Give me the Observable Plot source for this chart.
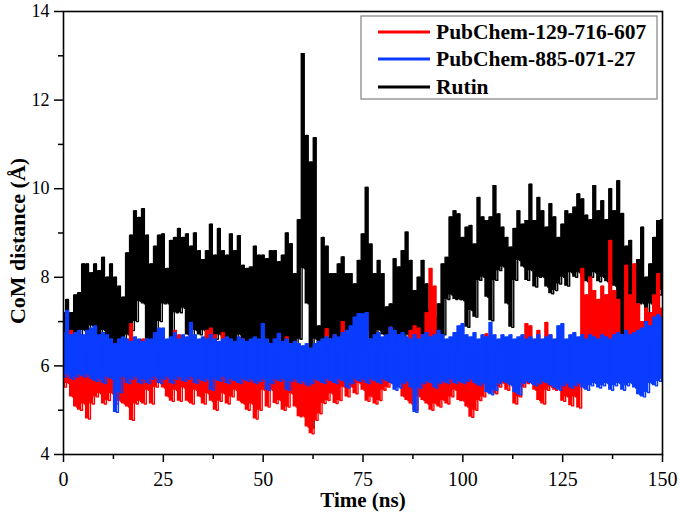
<!DOCTYPE html>
<html>
<head>
<meta charset="utf-8">
<script src="https://cdn.jsdelivr.net/npm/d3@7"></script>
<script src="https://cdn.jsdelivr.net/npm/@observablehq/plot@0.6"></script>
<style>
  html, body { margin: 0; padding: 0; background: #fff; }
  #chart { width: 680px; height: 518px; }
</style>
</head>
<body>
<div id="chart"></div>
<script>
// ---- Data ----
// time in ns, 1 ns steps; each step gives the upper and lower reach of the trace
const timeNs = d3.range(0, 151);
const seriesNames = ["PubChem-129-716-607", "PubChem-885-071-27", "Rutin"];
const seriesColors = ["#ff0000", "#0a3cff", "#000000"];
const xTicks = [0, 25, 50, 75, 100, 125, 150];
const xMinorTicks = [12.5, 37.5, 62.5, 87.5, 112.5, 137.5];
const yTicks = [4, 6, 8, 10, 12, 14];
const yMinorTicks = [5, 7, 9, 11, 13];

const rutinHi = [
  7.2,7.5,7.2,7.6,7.65,8.3,8.3,8.1,8.3,8.15,8.45,8.0,8.3,8.0,7.8,7.55,8.55,8.95,9.5,9.35,9.55,8.95,8.3,8.7,8.95,
  8.98,8.2,8.83,8.9,9.1,8.9,8.98,8.7,9.0,8.6,8.4,8.6,9.2,8.5,9.1,8.6,8.5,8.98,8.6,8.94,8.27,8.2,8.23,8.7,8.5,
  8.5,8.42,8.6,8.6,8.35,8.5,9.0,8.76,8.08,9.3,13.05,11.2,10.6,11.15,6.9,8.9,8.7,8.08,8.08,8.3,8.46,8.08,8.08,7.85,8.38,
  8.98,10.03,8.75,8.08,8.38,8.08,7.33,7.4,8.42,8.23,8.6,9.02,8.38,7.7,8.0,8.38,7.85,7.25,7.1,7.4,8.3,8.45,9.36,9.5,9.43,
  8.9,9.13,9.17,8.75,9.8,9.36,9.28,9.36,10.07,9.43,9.13,8.9,8.68,9.1,9.5,9.2,9.28,10.1,9.28,9.8,9.5,9.13,9.66,9.36,8.9,
  9.2,9.5,9.43,9.58,9.88,9.77,9.4,9.3,10.07,9.5,9.73,9.3,10.0,9.5,10.18,9.44,8.7,8.83,8.2,8.4,9.13,8.0,8.3,8.9,9.28,9.3
];
const rutinLo = [
  6.4,6.5,6.6,6.5,6.7,6.8,6.7,6.9,6.7,6.6,6.8,6.5,6.6,6.4,6.5,6.6,6.7,6.8,7.0,7.45,7.4,6.6,6.5,6.7,7.0,
  7.4,7.4,6.6,7.2,7.2,7.3,6.7,6.6,6.8,6.7,6.8,6.6,6.7,6.6,6.7,6.6,6.5,6.6,6.5,6.7,6.6,6.5,6.4,6.6,6.5,
  6.5,6.6,6.5,6.6,6.7,6.5,6.6,6.5,6.4,6.6,8.2,7.4,4.6,6.6,6.3,6.6,6.7,6.6,6.5,6.6,6.7,6.6,6.7,6.6,6.8,
  6.7,6.8,6.6,6.6,6.8,6.7,6.6,6.5,6.6,6.7,6.6,6.7,6.6,6.5,6.6,6.7,6.6,6.5,6.6,6.6,6.7,7.5,7.6,7.5,7.5,
  7.47,6.87,7.25,7.1,7.93,8.0,7.55,7.02,7.93,8.15,8.23,7.4,6.87,7.93,8.38,8.23,7.93,8.15,7.78,8.0,8.0,7.78,7.63,7.7,7.85,
  8.0,7.8,8.1,8.0,8.1,8.0,7.9,8.0,8.1,7.9,8.0,7.9,8.0,7.8,7.5,6.7,6.8,7.3,7.2,7.4,7.4,7.2,7.4,7.5,7.6,7.7
];
const pc129Hi = [
  6.3,6.4,6.8,6.7,6.3,6.4,6.2,6.3,6.4,6.3,6.2,6.3,6.4,6.2,6.3,6.4,6.3,6.95,6.3,6.2,6.6,6.3,6.4,6.3,6.2,
  6.3,6.4,6.3,6.8,6.7,6.3,6.2,6.4,6.3,6.2,6.3,6.8,6.85,6.7,6.3,6.75,6.3,6.4,6.3,6.2,6.6,6.3,6.2,6.3,6.4,
  6.3,6.2,6.3,6.4,6.3,6.2,6.65,6.3,6.2,6.4,6.3,6.2,6.3,6.4,6.3,6.4,6.84,6.3,6.7,6.3,7.0,6.4,6.3,6.4,6.3,
  6.3,6.4,6.3,6.2,6.3,6.4,6.3,6.87,6.3,6.4,6.3,6.4,6.8,6.9,6.85,6.7,7.2,8.2,7.8,6.6,6.4,6.3,6.4,6.3,6.4,
  6.3,6.4,6.3,6.2,6.3,6.4,6.72,6.3,6.4,6.3,6.2,6.3,6.4,6.3,6.4,6.3,6.95,6.9,6.4,6.8,6.4,6.98,6.7,6.4,6.3,
  6.4,6.3,6.4,6.3,6.6,8.2,7.6,8.0,7.7,7.5,7.8,7.6,8.83,7.7,7.5,6.5,8.27,7.6,8.3,7.4,7.0,7.3,7.2,7.6,8.08,7.3
];
const pc129Lo = [
  5.52,5.6,5.3,5.07,5.0,5.14,4.8,5.14,5.3,5.37,5.14,5.22,5.37,5.14,5.2,5.14,5.07,4.77,5.14,5.2,5.14,5.45,5.14,5.52,5.67,
  5.5,5.3,5.2,5.45,5.2,5.5,5.2,5.14,5.45,5.3,5.14,5.37,5.2,5.0,5.2,5.37,5.14,5.3,5.45,5.2,5.14,5.0,5.14,4.8,5.0,
  5.45,5.07,5.45,5.15,5.22,5.0,5.07,5.37,5.07,4.85,4.85,4.62,4.47,4.77,4.92,5.15,5.22,5.37,5.15,5.22,5.52,5.3,5.52,5.37,5.6,
  5.45,5.2,5.3,5.14,5.22,5.45,5.52,5.6,5.75,5.6,5.3,5.22,5.14,5.0,5.3,5.22,5.14,5.0,5.14,5.07,5.22,5.14,5.3,5.45,5.22,
  5.2,5.07,4.84,5.0,5.22,5.3,5.6,5.6,5.37,5.52,5.6,5.45,5.6,5.14,5.3,5.52,5.6,5.6,5.45,5.22,5.14,5.45,5.52,5.45,5.52,
  5.2,5.3,5.1,5.3,5.05,6.0,6.1,6.0,6.2,6.0,6.1,6.0,6.2,6.0,6.1,6.2,6.0,6.1,6.0,6.2,6.1,6.0,6.2,6.1,6.0,6.2
];
const pc885Hi = [
  6.75,7.25,6.7,6.75,6.8,6.7,6.8,6.85,6.9,6.7,6.75,6.7,6.6,6.5,6.6,6.65,6.6,6.55,6.65,6.6,6.55,6.6,6.6,6.75,6.85,
  6.85,6.6,6.65,6.75,6.6,6.7,6.65,6.98,6.7,6.6,6.65,6.6,6.7,6.6,6.55,6.6,6.65,6.6,6.55,6.65,6.6,6.55,6.6,6.65,6.6,
  6.95,6.6,6.5,6.6,6.73,6.55,6.6,6.5,6.55,6.5,6.45,6.5,6.4,6.5,6.55,6.6,6.65,6.6,6.7,6.65,6.75,6.8,6.9,7.1,7.18,
  7.17,7.2,6.6,6.7,6.75,6.65,6.7,6.87,6.8,6.7,6.75,6.65,6.6,6.7,6.6,6.7,6.75,6.65,6.7,6.8,6.7,6.6,6.65,6.75,6.9,
  6.95,6.7,6.65,6.75,6.6,6.7,6.65,6.98,6.7,6.6,6.7,6.65,6.7,6.6,6.65,6.7,6.6,6.65,6.6,6.7,6.6,6.65,6.7,6.6,6.9,
  6.95,6.6,6.7,6.75,6.65,6.7,6.6,6.7,6.65,6.6,6.7,6.65,6.6,6.7,6.75,6.7,6.8,6.7,6.75,6.8,6.85,7.0,6.9,7.1,7.15,7.1
];
const pc885Lo = [
  5.75,5.8,5.7,5.75,5.8,5.75,5.8,5.7,5.65,5.7,5.6,5.75,5.7,4.95,5.4,5.75,5.6,5.7,5.75,5.6,5.7,5.6,5.7,5.75,5.6,
  5.7,5.75,5.6,5.7,5.75,5.65,5.7,5.75,5.6,5.7,5.65,5.7,5.45,5.7,5.65,5.75,5.6,5.7,5.65,5.6,5.7,5.65,5.7,5.6,5.65,
  5.7,5.45,5.6,5.7,5.65,5.7,5.45,5.65,5.7,5.6,5.65,5.55,5.6,5.7,5.65,5.6,5.7,5.65,5.6,5.7,5.65,5.5,5.6,5.7,5.65,
  5.7,5.6,5.7,5.65,5.6,5.7,5.65,5.6,5.45,5.5,5.6,5.65,5.5,4.95,5.5,5.6,5.65,5.6,5.5,5.6,5.65,5.6,5.7,5.6,5.65,
  5.6,5.65,5.7,5.6,5.55,5.6,5.4,5.35,5.45,5.6,5.65,5.6,5.55,5.4,5.35,5.6,5.65,5.6,5.55,5.6,5.65,5.6,5.55,5.5,5.45,
  5.55,5.6,5.5,5.55,5.6,5.5,5.45,5.55,5.6,5.5,5.55,5.6,5.45,5.55,5.6,5.45,5.55,5.6,5.5,5.35,5.3,5.4,5.6,5.55,5.65,5.7
];

// trace: upper reach at each whole ns, lower reach half a step later
function trace(hi, lo) {
  const rows = [];
  timeNs.forEach((t, i) => {
    rows.push({t, v: hi[i]});
    if (i < timeNs.length - 1) rows.push({t: t + 0.5, v: lo[i]});
  });
  return rows;
}
// band: the range covered by the fluctuating trace within each ns
function band(hi, lo) {
  return timeNs.map((t, i) => ({t, hi: hi[i], lo: lo[i]}));
}
const rutin = trace(rutinHi, rutinLo);
const pc129 = trace(pc129Hi, pc129Lo);
const pc885 = trace(pc885Hi, pc885Lo);
const rutinBand = band(rutinHi, rutinLo);
const pc129Band = band(pc129Hi, pc129Lo);
const pc885Band = band(pc885Hi, pc885Lo);

const serif = "'Liberation Serif', 'Times New Roman', serif";
const lineW = 1.4;

const svg = Plot.plot({
  width: 680,
  height: 518,
  marginLeft: 63,
  marginRight: 18,
  marginTop: 11,
  marginBottom: 64,
  style: {fontFamily: serif, fontSize: "19px", color: "#000", background: "#fff"},
  x: {domain: [0, 150]},
  y: {domain: [4, 14]},
  marks: [
    Plot.areaY(rutinBand, {x: "t", y1: "lo", y2: "hi", fill: seriesColors[2], curve: "step"}),
    Plot.line(rutin, {x: "t", y: "v", stroke: seriesColors[2], strokeWidth: lineW, curve: "step"}),
    Plot.areaY(pc129Band, {x: "t", y1: "lo", y2: "hi", fill: seriesColors[0], curve: "step"}),
    Plot.line(pc129, {x: "t", y: "v", stroke: seriesColors[0], strokeWidth: lineW, curve: "step"}),
    Plot.areaY(pc885Band, {x: "t", y1: "lo", y2: "hi", fill: seriesColors[1], curve: "step"}),
    Plot.line(pc885, {x: "t", y: "v", stroke: seriesColors[1], strokeWidth: lineW, curve: "step"}),
    Plot.axisX(xTicks, {tickSize: 8, tickPadding: 9, strokeWidth: 1.5, fontSize: 20, label: null, tickFormat: d => String(d)}),
    Plot.axisX(xMinorTicks, {tickSize: 5, strokeWidth: 1.5, label: null, tickFormat: () => ""}),
    Plot.axisY(yTicks, {tickSize: 9, tickPadding: 5, strokeWidth: 1.5, fontSize: 18, label: null, tickFormat: d => String(d)}),
    Plot.axisY(yMinorTicks, {tickSize: 5, strokeWidth: 1.5, label: null, tickFormat: () => ""}),
    Plot.frame({stroke: "#000", strokeWidth: 1.6}),
    Plot.text(["Time (ns)"], {frameAnchor: "bottom", dy: 46, lineAnchor: "middle", textAnchor: "middle", fontWeight: "bold", fontSize: 21}),
    Plot.text(["CoM distance (Å)"], {frameAnchor: "left", dx: -46, dy: 8, rotate: -90, textAnchor: "middle", lineAnchor: "middle", fontWeight: "bold", fontSize: 22})
  ]
});

// legend box inside the plot, top right
const lg = d3.select(svg).append("g").attr("font-family", serif).attr("text-anchor", "start");
lg.append("rect").attr("x", 361).attr("y", 16).attr("width", 296).attr("height", 83)
  .attr("fill", "#fff").attr("stroke", "#808080").attr("stroke-width", 1.2);
const legendOrder = [0, 1, 2];
const rowY = [32, 59, 87];
legendOrder.forEach((k, i) => {
  lg.append("line").attr("x1", 378).attr("x2", 430).attr("y1", rowY[i]).attr("y2", rowY[i])
    .attr("stroke", seriesColors[k]).attr("stroke-width", 3);
  lg.append("text").attr("x", 436).attr("y", rowY[i] + 7).attr("font-size", 21.5).attr("font-weight", "bold")
    .attr("text-anchor", "start").attr("fill", "#000").text(seriesNames[k]);
});

document.getElementById("chart").appendChild(svg);
</script>
</body>
</html>
